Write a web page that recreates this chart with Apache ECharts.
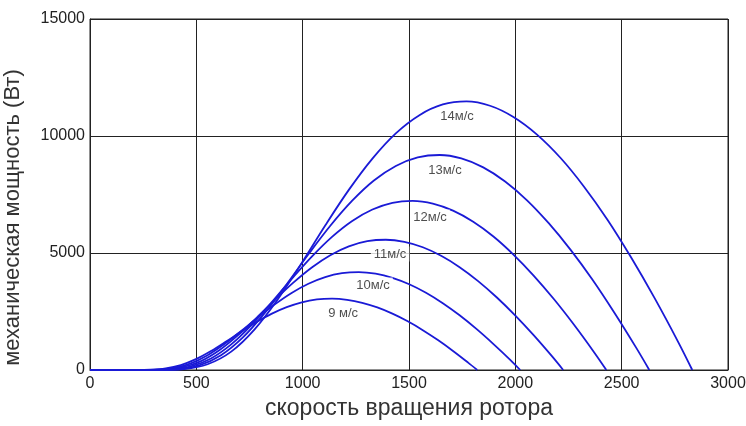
<!DOCTYPE html>
<html>
<head>
<meta charset="utf-8">
<script src="https://cdn.jsdelivr.net/npm/echarts@6/dist/echarts.min.js"></script>
<style>
  html, body { margin: 0; padding: 0; background: #fff; }
  #chart { width: 746px; height: 426px; }
</style>
</head>
<body>
<div id="chart"></div>
<script>
// rotor speed (rpm) and mechanical power (W), one pair per wind speed
var speed9  = [0, 213, 285, 356, 427, 498, 569, 640, 711, 782, 853, 925, 996, 1067, 1138, 1209, 1280, 1351, 1422, 1494, 1565, 1636, 1707, 1778, 1821];
var power9  = [0, 0, 10, 65, 209, 462, 810, 1216, 1641, 2045, 2400, 2687, 2894, 3015, 3049, 3000, 2873, 2673, 2407, 2081, 1703, 1280, 816, 317, 0];
var speed10 = [0, 237, 316, 395, 474, 553, 632, 711, 790, 869, 948, 1027, 1106, 1185, 1264, 1343, 1422, 1501, 1580, 1659, 1738, 1817, 1896, 1976, 2023];
var power10 = [0, 0, 14, 89, 287, 634, 1110, 1669, 2251, 2805, 3293, 3686, 3969, 4136, 4183, 4116, 3941, 3666, 3302, 2855, 2337, 1756, 1119, 435, 0];
var speed11 = [0, 261, 348, 435, 522, 608, 695, 782, 869, 956, 1043, 1130, 1217, 1304, 1391, 1478, 1565, 1651, 1738, 1825, 1912, 1999, 2086, 2173, 2225];
var power11 = [0, 0, 19, 119, 381, 843, 1478, 2221, 2995, 3733, 4382, 4905, 5282, 5503, 5566, 5477, 5245, 4879, 4394, 3800, 3110, 2336, 1489, 579, 0];
var speed12 = [0, 285, 379, 474, 569, 664, 759, 853, 948, 1043, 1138, 1233, 1328, 1422, 1517, 1612, 1707, 1802, 1897, 1991, 2086, 2181, 2276, 2371, 2428];
var power12 = [0, 0, 25, 154, 495, 1095, 1919, 2883, 3889, 4847, 5689, 6369, 6858, 7145, 7227, 7111, 6809, 6335, 5704, 4933, 4037, 3033, 1933, 752, 0];
var speed13 = [0, 308, 411, 514, 616, 719, 822, 925, 1027, 1130, 1233, 1335, 1438, 1541, 1644, 1746, 1849, 1952, 2055, 2157, 2260, 2363, 2465, 2568, 2630];
var power13 = [0, 0, 31, 196, 630, 1392, 2440, 3666, 4944, 6163, 7234, 8098, 8720, 9085, 9189, 9042, 8658, 8055, 7253, 6273, 5134, 3857, 2458, 956, 0];
var speed14 = [0, 332, 443, 553, 664, 774, 885, 996, 1106, 1217, 1328, 1438, 1549, 1659, 1770, 1881, 1991, 2102, 2213, 2323, 2434, 2544, 2655, 2766, 2832];
var power14 = [0, 0, 39, 245, 786, 1738, 3047, 4578, 6175, 7697, 9035, 10114, 10891, 11347, 11477, 11293, 10813, 10060, 9059, 7834, 6412, 4817, 3070, 1194, 0];

var windLabels = ['9 м/с', '10м/с', '11м/с', '12м/с', '13м/с', '14м/с'];
// where each wind label sits, in axis units
var labelSpeed = [1190, 1331, 1411, 1599, 1669, 1726];
var labelPower = [2436, 3632, 4957, 6538, 8547, 10855];

var xTicks = [0, 500, 1000, 1500, 2000, 2500, 3000];
var yTicks = [0, 5000, 10000, 15000];

var curves = [
  [speed9, power9], [speed10, power10], [speed11, power11],
  [speed12, power12], [speed13, power13], [speed14, power14]
];

var lineColor = '#1a1ad6';
var series = curves.map(function (c, i) {
  return {
    name: windLabels[i],
    type: 'line',
    smooth: 0.35,
    showSymbol: false,
    symbol: 'none',
    silent: true,
    lineStyle: { color: lineColor, width: 1.8 },
    data: c[0].map(function (s, k) { return [s, c[1][k]]; }),
    z: 2
  };
});

series.push({
  type: 'scatter',
  symbolSize: 0,
  silent: true,
  z: 5,
  data: windLabels.map(function (t, i) { return { value: [labelSpeed[i], labelPower[i]], name: t }; }),
  label: {
    show: true,
    position: 'inside',
    formatter: function (p) { return p.name; },
    color: '#222',
    fontFamily: 'Liberation Sans',
    fontSize: 13,
    backgroundColor: '#fff',
    padding: [1, 3]
  }
});

var plain = function (v) { return String(v); };

var chart = echarts.init(document.getElementById('chart'), null, { renderer: 'canvas' });
chart.setOption({
  backgroundColor: '#fff',
  animation: false,
  grid: {
    left: 90, right: 18, top: 19, bottom: 56,
    outerBoundsMode: 'none', containLabel: false,
    show: true, borderColor: '#222', borderWidth: 1
  },
  xAxis: {
    type: 'value',
    min: xTicks[0],
    max: xTicks[xTicks.length - 1],
    interval: 500,
    name: 'скорость вращения ротора',
    nameLocation: 'middle',
    nameGap: 27,
    nameTextStyle: { fontFamily: 'Liberation Sans', fontSize: 23, color: '#333' },
    axisLine: { show: true, lineStyle: { color: '#222', width: 1 } },
    axisTick: { show: false },
    axisLabel: { margin: 6, fontFamily: 'Liberation Sans', fontSize: 16, color: '#222', formatter: plain },
    splitLine: { show: true, lineStyle: { color: '#222', width: 1 } }
  },
  yAxis: {
    type: 'value',
    min: yTicks[0],
    max: yTicks[yTicks.length - 1],
    interval: 5000,
    name: 'механическая мощность (Вт)',
    nameLocation: 'middle',
    nameGap: 66,
    nameTextStyle: { fontFamily: 'Liberation Sans', fontSize: 22, color: '#333', padding: [0, 46, 0, 0] },
    axisLine: { show: true, lineStyle: { color: '#222', width: 1 } },
    axisTick: { show: false },
    axisLabel: { margin: 5, fontFamily: 'Liberation Sans', fontSize: 16, color: '#222', formatter: plain },
    splitLine: { show: true, lineStyle: { color: '#222', width: 1 } }
  },
  series: series
});
</script>
</body>
</html>
